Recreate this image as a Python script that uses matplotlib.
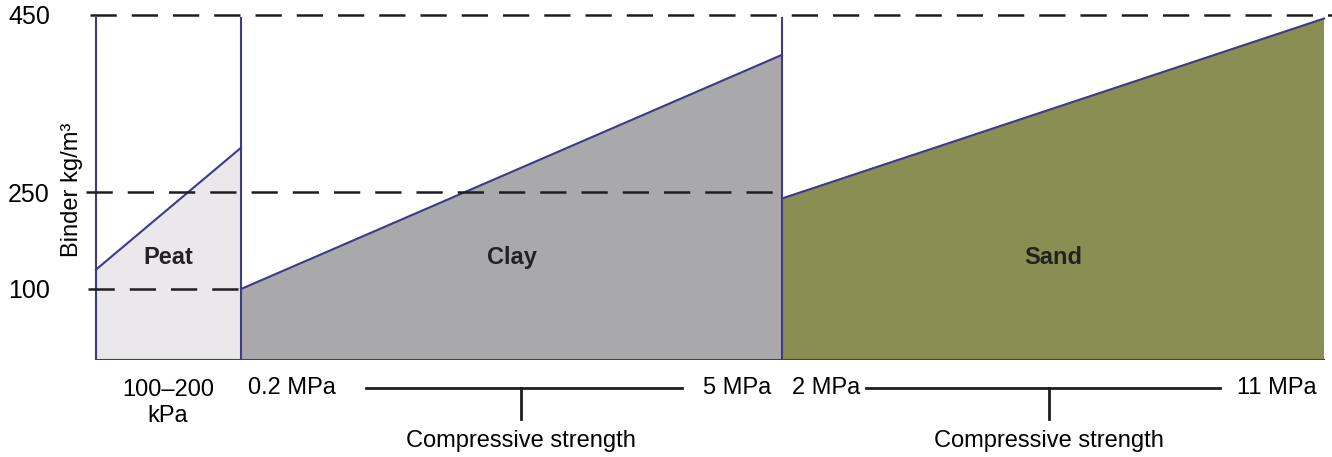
import numpy as np
import matplotlib
matplotlib.use("Agg")
import matplotlib.pyplot as plt
from matplotlib.lines import Line2D

# ---- data ----
zones = ["Peat", "Clay", "Sand"]
binder_low = [130, 100, 240]      # kg/m3 at low strength end
binder_high = [300, 405, 446]     # kg/m3 at high strength end
strength_low = ["100\u2013200\nkPa", "0.2 MPa", "2 MPa"]
strength_high = ["", "5 MPa", "11 MPa"]
ref_levels = [100, 250, 450]
ytick_labels = ["100", "250", "450"]
axis_title = "Compressive strength"
ylabel = "Binder kg/m\u00b3"

# ---- style ----
plt.rcParams["font.family"] = ["Liberation Sans", "DejaVu Sans"]
W, H = 1332, 457
fig = plt.figure(figsize=(W / 100, H / 100), dpi=100)

def fx(px):
    return px / W

def fy(py):
    return 1 - py / H

ax = fig.add_axes([fx(86), fy(360), fx(1332) - fx(86), fy(15) - fy(360)])

# schematic (piecewise) binder scale
yb = [0, 100, 250, 450]
yp = [0, 71, 168, 345]
def fwd(v):
    return np.interp(v, yb, yp, left=-1e3, right=1e3)
def inv(v):
    return np.interp(v, yp, yb, left=-1e3, right=1e3)
ax.set_yscale("function", functions=(fwd, inv))
ax.set_ylim(0, 450)
ax.set_xlim(-10, 1236)

edges = [0, 145, 686, 1228]
fills = ["#eae8eb", "#a9a8aa", "#8b8e53"]
edge_col = "#3b3b86"

for i, z in enumerate(zones):
    x0, x1 = edges[i], edges[i + 1]
    ax.fill([x0, x1, x1, x0], [0, 0, binder_high[i], binder_low[i]],
            color=fills[i], lw=0, zorder=1)
    ax.plot([x0, x1], [binder_low[i], binder_high[i]], color=edge_col, lw=1.5, zorder=3)
    ax.text((x0 + x1) / 2, 148, z, ha="center", va="center",
            fontsize=17, fontweight="bold", color="#222222", zorder=5)

# vertical separators and base line
for x in edges[:3]:
    ax.plot([x, x], [0, 447], color=edge_col, lw=1.5, zorder=3)
ax.plot([edges[0], edges[-1]], [0, 0], color=edge_col, lw=1.5, zorder=3)

# dashed reference levels
dash_extent = {100: (-8, edges[1]), 250: (-10, edges[2]), 450: (-6, 1246)}
for lv in ref_levels:
    a, b = dash_extent[lv]
    ln, = ax.plot([a, b], [lv, lv], color="#1e1e1e", lw=1.8, zorder=4, clip_on=False)
    ln.set_dashes((10.5, 6))

ax.set_yticks(ref_levels)
ax.set_yticklabels(ytick_labels, fontsize=18)
ax.tick_params(axis="y", length=0, pad=26)
ax.set_xticks([])
for s in ax.spines.values():
    s.set_visible(False)
ax.patch.set_alpha(0)

fig.text(fx(72), fy(190), ylabel, rotation=90, ha="center", va="center", fontsize=17)

# bottom annotations (figure pixel coords)
fs = 17
fig.text(fx(168), fy(403), strength_low[0], ha="center", va="center", fontsize=fs,
         linespacing=1.2)
fig.text(fx(248), fy(388), strength_low[1], ha="left", va="center", fontsize=fs)
fig.text(fx(771), fy(388), strength_high[1], ha="right", va="center", fontsize=fs)
fig.text(fx(792), fy(388), strength_low[2], ha="left", va="center", fontsize=fs)
fig.text(fx(1317), fy(388), strength_high[2], ha="right", va="center", fontsize=fs)

for (a, b, c) in [(366, 682, 521), (866, 1220, 1049)]:
    fig.add_artist(Line2D([fx(a), fx(b)], [fy(388), fy(388)], color="#1e1e1e", lw=2))
    fig.add_artist(Line2D([fx(c), fx(c)], [fy(388), fy(419)], color="#1e1e1e", lw=2))
    fig.text(fx(c), fy(441), axis_title, ha="center", va="center", fontsize=fs)

fig.savefig("out.png", dpi=100)
